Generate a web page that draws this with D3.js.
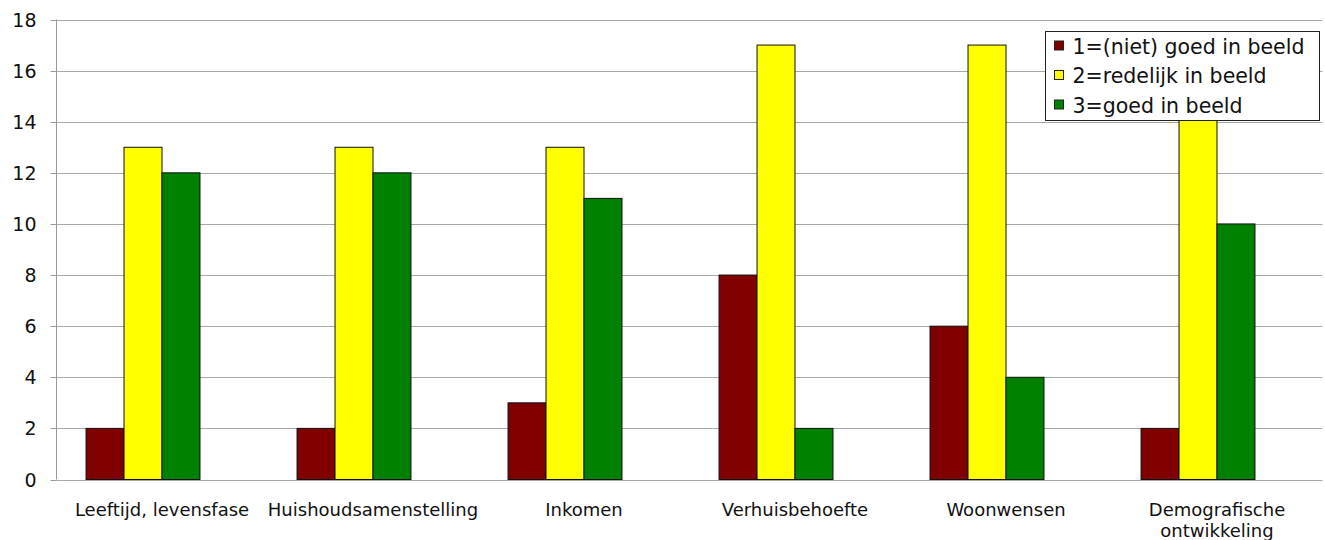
<!DOCTYPE html>
<html>
<head>
<meta charset="utf-8">
<script src="https://cdn.jsdelivr.net/npm/d3@7"></script>
<style>
  html, body { margin: 0; padding: 0; background: #fff; }
  svg { display: block; }
  text { font-family: "DejaVu Sans", Verdana, sans-serif; fill: #111; }
</style>
</head>
<body>
<svg id="chart" width="1325" height="540"></svg>
<script>
// Categories along the x axis (multi-line labels split on "\n")
const categories = [
  "Leeftijd, levensfase",
  "Huishoudsamenstelling",
  "Inkomen",
  "Verhuisbehoefte",
  "Woonwensen",
  "Demografische\nontwikkeling"
];

// Series names and colours
const seriesNames = ["1=(niet) goed in beeld", "2=redelijk in beeld", "3=goed in beeld"];
const seriesColors = ["#800000", "#ffff00", "#008000"];

// Counts per series, one value per category
const nietGoed = [2, 2, 3, 8, 6, 2];
const redelijk = [13, 13, 13, 17, 17, 15];
const goed     = [12, 12, 11, 2, 4, 10];
const seriesValues = [nietGoed, redelijk, goed];

// Y axis ticks
const yTicks = [0, 2, 4, 6, 8, 10, 12, 14, 16, 18];

const svg = d3.select("#chart");

const plot = { left: 56.5, right: 1322.5, top: 19.5, bottom: 479.5 };

const x = d3.scaleBand()
  .domain(categories)
  .range([plot.left, plot.right])
  .paddingInner(0.28)
  .paddingOuter(0.14);

// Four slots per category: three series plus one empty slot
const slots = seriesNames.concat(["__leeg"]);
const xInner = d3.scaleBand()
  .domain(slots)
  .range([0, x.bandwidth()])
  .padding(0);

const y = d3.scaleLinear()
  .domain([0, 18])
  .range([plot.bottom, plot.top]);

// Horizontal gridlines
svg.append("g")
  .selectAll("line")
  .data(yTicks)
  .join("line")
  .attr("x1", plot.left)
  .attr("x2", plot.right)
  .attr("y1", d => Math.round(y(d)) + 0.5)
  .attr("y2", d => Math.round(y(d)) + 0.5)
  .attr("stroke", "#a8a8a8")
  .attr("stroke-width", 1);

// Y axis
const yAxis = d3.axisLeft(y)
  .tickValues(yTicks)
  .tickSize(6)
  .tickPadding(14)
  .tickFormat(d3.format("d"));

const yAxisG = svg.append("g")
  .attr("transform", `translate(${plot.left},0)`)
  .call(yAxis);
yAxisG.select(".domain").attr("stroke", "#999").attr("d", `M0,${plot.top}V${plot.bottom}`);
yAxisG.selectAll(".tick line").attr("stroke", "#999");
yAxisG.selectAll(".tick").attr("transform", d => `translate(0,${Math.round(y(d)) + 0.5})`);
yAxisG.selectAll(".tick text")
  .attr("font-size", 19)
  .attr("font-family", "DejaVu Sans, Verdana, sans-serif")
  .attr("fill", "#111");

// Bars
const rows = categories.map((c, i) => ({
  category: c,
  values: seriesNames.map((s, k) => ({ series: s, color: seriesColors[k], value: seriesValues[k][i] }))
}));

const groups = svg.append("g")
  .selectAll("g")
  .data(rows)
  .join("g")
  .attr("transform", d => `translate(${x(d.category)},0)`);

groups.selectAll("rect")
  .data(d => d.values)
  .join("rect")
  .attr("x", d => xInner(d.series))
  .attr("width", xInner.bandwidth())
  .attr("y", d => y(d.value))
  .attr("height", d => y(0) - y(d.value))
  .attr("fill", d => d.color)
  .attr("stroke", "#111")
  .attr("stroke-width", 1);

// Category labels, centred under each category
const labels = svg.append("g")
  .selectAll("text")
  .data(categories)
  .join("text")
  .attr("x", d => x(d) + x.bandwidth() / 2)
  .attr("y", 516)
  .attr("text-anchor", "middle")
  .attr("font-size", 18);

labels.selectAll("tspan")
  .data(d => d.split("\n"))
  .join("tspan")
  .attr("x", function() { return d3.select(this.parentNode).attr("x"); })
  .attr("dy", (d, i) => i === 0 ? 0 : 21)
  .text(d => d);

// Legend
const legend = svg.append("g").attr("transform", "translate(1045.5,31.5)");
legend.append("rect")
  .attr("width", 274)
  .attr("height", 89)
  .attr("fill", "#fff")
  .attr("stroke", "#222")
  .attr("stroke-width", 1);

const items = legend.selectAll("g.item")
  .data(seriesNames)
  .join("g")
  .attr("class", "item")
  .attr("transform", (d, i) => `translate(0,${14.5 + i * 29.5})`);

items.append("rect")
  .attr("x", 9)
  .attr("y", -5)
  .attr("width", 9)
  .attr("height", 9)
  .attr("fill", (d, i) => seriesColors[i])
  .attr("stroke", "#222")
  .attr("stroke-width", 1);

items.append("text")
  .attr("x", 27)
  .attr("y", 7.5)
  .attr("font-size", 20.5)
  .text(d => d);
</script>
</body>
</html>
